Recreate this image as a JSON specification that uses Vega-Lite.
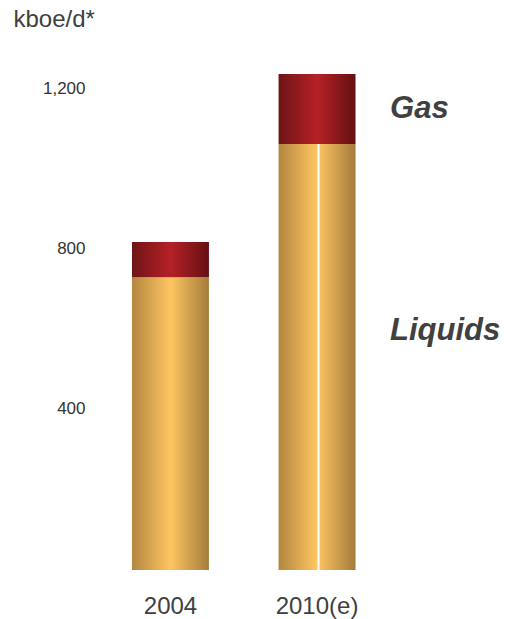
{
  "$schema": "https://vega.github.io/schema/vega-lite/v6.json",
  "autosize": "none",
  "width": 287.5,
  "height": 520,
  "padding": {"left": 100, "top": 50, "right": 120, "bottom": 49},
  "background": "white",
  "config": {"view": {"stroke": null}, "font": "Liberation Sans"},
  "datasets": {
    "bars": [
      {"year": "2004", "type": "Liquids", "order": 1, "value": 732},
      {"year": "2004", "type": "Gas", "order": 2, "value": 88},
      {"year": "2010(e)", "type": "Liquids", "order": 1, "value": 1065},
      {"year": "2010(e)", "type": "Gas", "order": 2, "value": 175}
    ],
    "labels": [
      {"year": "2010(e)", "label": "Gas", "value": 1152},
      {"year": "2010(e)", "label": "Liquids", "value": 597}
    ]
  },
  "encoding": {
    "x": {
      "field": "year", "type": "nominal", "sort": ["2004", "2010(e)"],
      "scale": {"paddingInner": 0.475, "paddingOuter": 0.2184},
      "axis": {"title": null, "domain": false, "ticks": false, "labelAngle": 0,
               "labelFontSize": 24, "labelColor": "#404040", "labelPadding": 24,
               "labelFont": "Liberation Sans"}
    }
  },
  "layer": [
    {
      "data": {"name": "bars"},
      "transform": [
        {"stack": "value", "groupby": ["year"], "sort": [{"field": "order"}], "as": ["v0", "v1"]},
        {"filter": "datum.type === 'Liquids'"}
      ],
      "mark": {"type": "bar", "color": {"gradient": "linear", "x1": 0, "y1": 0, "x2": 1, "y2": 0,
        "stops": [
          {"offset": 0, "color": "#b3873f"},
          {"offset": 0.5, "color": "#ffc562"},
          {"offset": 1, "color": "#a37c3b"}
        ]}},
      "encoding": {
        "y": {"field": "v0", "type": "quantitative",
              "scale": {"domain": [0, 1300], "nice": false},
              "axis": {"values": [400, 800, 1200], "format": ",.0f", "domain": false, "ticks": false, "grid": false,
                       "labelFontSize": 17, "labelColor": "#333333", "labelPadding": 15, "labelOffset": -2,
                       "title": "kboe/d*", "titleAngle": 0, "titleAlign": "left", "titleBaseline": "alphabetic",
                       "titleX": -87, "titleY": -24, "titleFontSize": 24, "titleFontWeight": "normal",
                       "titleColor": "#404040", "titleFont": "Liberation Sans"}},
        "y2": {"field": "v1"}
      }
    },
    {
      "data": {"name": "bars"},
      "transform": [
        {"stack": "value", "groupby": ["year"], "sort": [{"field": "order"}], "as": ["v0", "v1"]},
        {"filter": "datum.type === 'Gas'"}
      ],
      "mark": {"type": "bar", "color": {"gradient": "linear", "x1": 0, "y1": 0, "x2": 1, "y2": 0,
        "stops": [
          {"offset": 0, "color": "#6e1417"},
          {"offset": 0.5, "color": "#b52126"},
          {"offset": 1, "color": "#641013"}
        ]}},
      "encoding": {
        "y": {"field": "v0", "type": "quantitative"},
        "y2": {"field": "v1"}
      }
    },
    {
      "data": {"name": "bars"},
      "transform": [
        {"stack": "value", "groupby": ["year"], "sort": [{"field": "order"}], "as": ["v0", "v1"]},
        {"filter": "datum.year === '2010(e)' && datum.type === 'Liquids'"}
      ],
      "mark": {"type": "rule", "color": "white", "strokeWidth": 2, "xOffset": 1.5},
      "encoding": {
        "y": {"field": "v0", "type": "quantitative"},
        "y2": {"field": "v1"}
      }
    },
    {
      "data": {"name": "labels"},
      "mark": {"type": "text", "align": "left", "baseline": "middle", "dx": 73,
               "fontSize": 31, "fontWeight": "bold", "fontStyle": "italic",
               "color": "#404040", "font": "Liberation Sans"},
      "encoding": {
        "y": {"field": "value", "type": "quantitative"},
        "text": {"field": "label", "type": "nominal"}
      }
    }
  ]
}
